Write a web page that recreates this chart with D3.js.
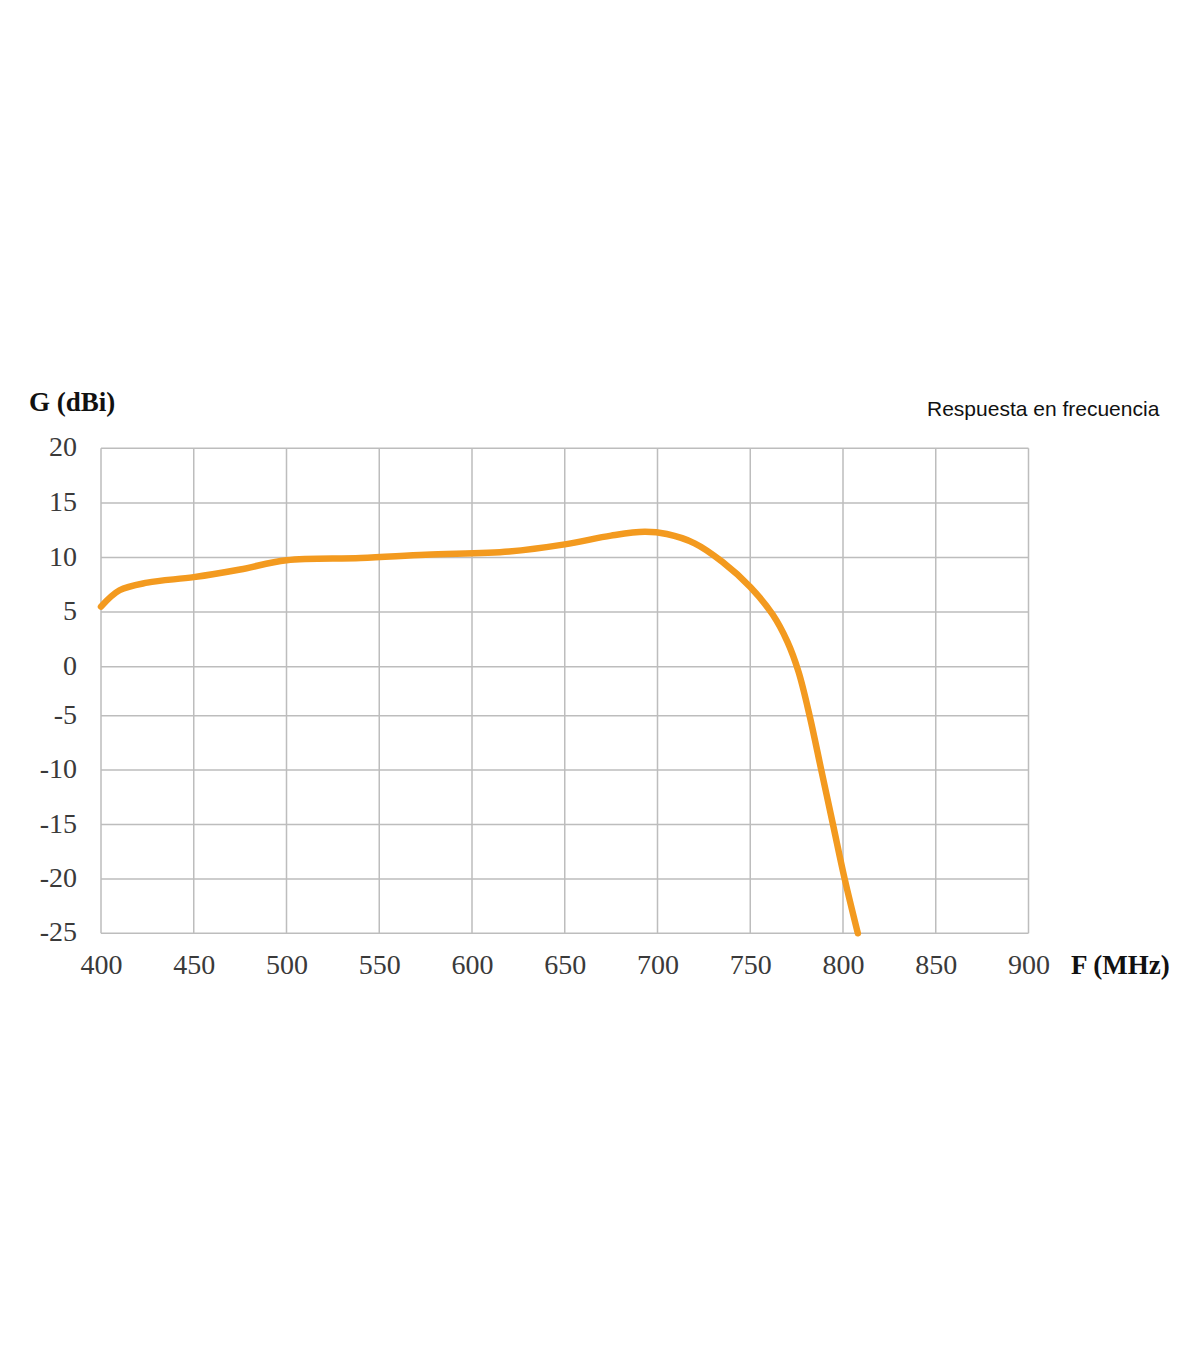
<!DOCTYPE html>
<html>
<head>
<meta charset="utf-8">
<script src="https://cdn.jsdelivr.net/npm/d3@7"></script>
<style>
html,body{margin:0;padding:0;background:#fff;}
</style>
</head>
<body>
<svg id="chart" width="1200" height="1372"></svg>
<script>
const freqs = [400,410,425,450,475,500,540,575,620,650,675,693,705,720,735,750,762,770,776,782,788.3,794.6,800.9,808];
const gains = [5.5,7.0,7.7,8.2,8.9,9.75,9.95,10.25,10.55,11.2,12.0,12.35,12.15,11.3,9.6,7.3,4.8,2.3,-0.5,-5,-10,-15,-20,-25];
const xTicks = [400,450,500,550,600,650,700,750,800,850,900];
const yTicks = [20,15,10,5,0,-5,-10,-15,-20,-25];
const yTitle = "G (dBi)";
const xTitle = "F (MHz)";
const chartTitle = "Respuesta en frecuencia";

const svg = d3.select("#chart");
const x = d3.scaleLinear().domain([400,900]).range([101,1028.5]);
const y = d3.scaleLinear().domain([-25,-5,0,20]).range([933.3,715.7,666.7,448.3]);

const grid = svg.append("g");
grid.selectAll("line.v").data(xTicks).join("line")
  .attr("x1", d=>x(d)).attr("x2", d=>x(d)).attr("y1", y(20)).attr("y2", y(-25))
  .attr("stroke", "#bdbdbd").attr("stroke-width", 1.5);
grid.selectAll("line.h").data(yTicks).join("line")
  .attr("x1", x(400)).attr("x2", x(900)).attr("y1", d=>y(d)).attr("y2", d=>y(d))
  .attr("stroke", "#bdbdbd").attr("stroke-width", 1.5);

const serif = "'Liberation Serif','Times New Roman',serif";

const xAxis = d3.axisBottom(x).tickValues(xTicks).tickSize(0).tickPadding(0).tickFormat(d=>String(d));
const gx = svg.append("g").attr("transform", "translate(0,951)").call(xAxis);
gx.select(".domain").remove();
gx.selectAll("text").attr("font-family", serif).attr("font-size", 28).attr("fill", "#3a3a3a")
  .attr("dy", "0.82em");

const yAxis = d3.axisLeft(y).tickValues(yTicks).tickSize(0).tickPadding(0).tickFormat(d=>String(d));
const gy = svg.append("g").attr("transform", "translate(77,-2)").call(yAxis);
gy.select(".domain").remove();
gy.selectAll("text").attr("font-family", serif).attr("font-size", 28).attr("fill", "#3a3a3a")
  .attr("dy", "0.34em");

svg.append("text").attr("x", 29).attr("y", 411).text(yTitle)
  .attr("font-family", serif).attr("font-size", 27).attr("font-weight", "bold").attr("fill", "#111");
svg.append("text").attr("x", 1071).attr("y", 974).text(xTitle)
  .attr("font-family", serif).attr("font-size", 27).attr("font-weight", "bold").attr("fill", "#111");
svg.append("text").attr("x", 927).attr("y", 416).text(chartTitle)
  .attr("font-family", "'Liberation Sans',Arial,sans-serif").attr("font-size", 21).attr("fill", "#111");

const data = freqs.map((f,i)=>({f, g: gains[i]}));
const line = d3.line().x(d=>x(d.f)).y(d=>y(d.g)).curve(d3.curveCatmullRom.alpha(0.5));
svg.append("path").datum(data).attr("d", line)
  .attr("fill", "none").attr("stroke", "#F39A1F").attr("stroke-width", 6.5)
  .attr("stroke-linecap", "round").attr("stroke-linejoin", "round");
</script>
</body>
</html>
